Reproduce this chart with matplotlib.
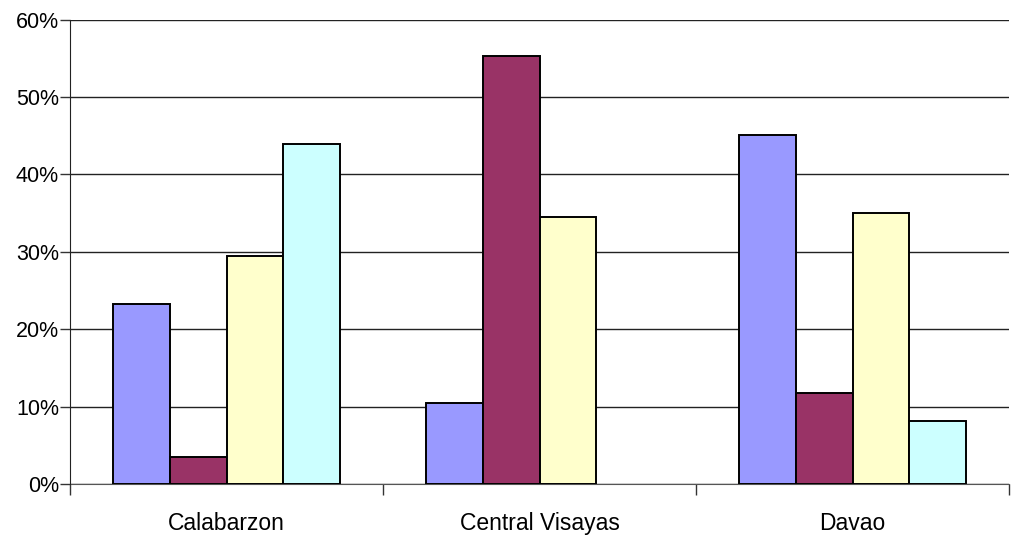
"""
Share by region, four groups per region, clustered bar chart.
"""
import numpy as np
import matplotlib
matplotlib.use('Agg')
import matplotlib.pyplot as plt
from matplotlib.ticker import FuncFormatter

plt.rcParams['font.family'] = ['Liberation Sans', 'DejaVu Sans']

regions = ['Calabarzon', 'Central Visayas', 'Davao']
series_a = [23.3, 10.4, 45.1]
series_b = [3.5, 55.3, 11.7]
series_c = [29.4, 34.5, 35.0]
series_d = [43.9, 0.0, 8.2]
yticks = [0, 10, 20, 30, 40, 50, 60]

colors = ['#9999FF', '#993366', '#FFFFCC', '#CCFFFF']

fig = plt.figure(figsize=(10.13, 5.36), dpi=100)
ax = fig.add_axes([70 / 1013, (536 - 484) / 536, 939 / 1013, 464.5 / 536])

x = np.arange(len(regions))
w = 0.182
for i, (vals, c) in enumerate(zip([series_a, series_b, series_c, series_d], colors)):
    # empty bars get no outline so the baseline stays clean
    lws = [1.4 if v > 0 else 0 for v in vals]
    ax.bar(x + (i - 1.5) * w, vals, width=w, color=c, edgecolor='black',
           linewidth=lws, zorder=3)

ax.set_xlim(-0.5, 2.5)
ax.set_ylim(0, 60)
ax.set_yticks(yticks)
ax.yaxis.set_major_formatter(FuncFormatter(lambda v, p: '%d%%' % v))
ax.yaxis.grid(True, color='#222222', linewidth=1.0, zorder=0)

# category labels sit between the boundary ticks
ax.set_xticks([-0.5, 0.5, 1.5, 2.5])
ax.set_xticklabels([])
ax.set_xticks(x, minor=True)
ax.set_xticklabels(regions, minor=True, fontsize=16.5)
ax.tick_params(axis='x', which='major', length=8, width=1, color='#333333')
ax.tick_params(axis='x', which='minor', length=0, pad=20)
ax.tick_params(axis='y', length=7, width=1, labelsize=15.5, pad=1, color='#333333')

for s in ['top', 'right']:
    ax.spines[s].set_visible(False)
ax.spines['left'].set_color('#222222')
ax.spines['bottom'].set_color('#555555')
ax.spines['left'].set_zorder(4)

fig.savefig('out.png', dpi=100)
